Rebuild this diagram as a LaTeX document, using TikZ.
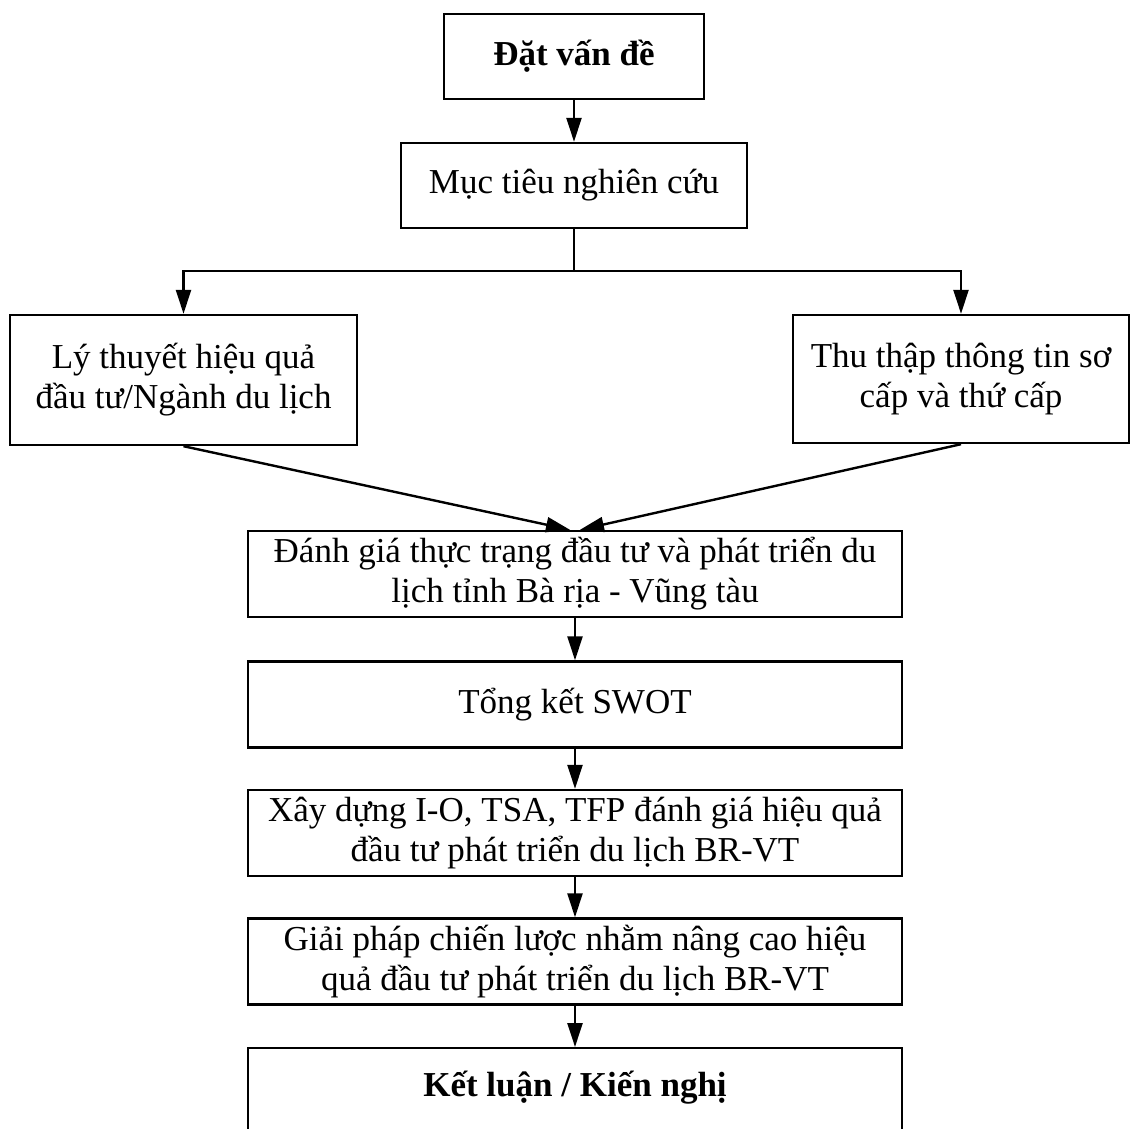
\documentclass[tikz,border=0pt]{standalone}
\usepackage{fontspec}
\setmainfont{Liberation Serif}
\usetikzlibrary{arrows.meta}

\begin{document}
\begin{tikzpicture}[x=1pt, y=-1pt,
    box/.style={draw, line width=2.4pt, align=center, inner sep=0pt,
        font=\fontsize{35}{40}\selectfont},
    wide/.style={box, minimum width=654pt, minimum height=86pt},
    arr/.style={line width=2.4pt, -{Triangle[length=24pt,width=15pt]}}]
\useasboundingbox (0,0) rectangle (1132,1129);
\clip (0,0) rectangle (1132,1129);

\node[box, minimum width=260pt, minimum height=85pt] (problem) at (574,56.5) {\textbf{Đặt vấn đề}};
\node[box, minimum width=346pt, minimum height=85pt] (aims) at (574,185.5) {Mục tiêu nghiên cứu};
\node[box, minimum width=347pt, minimum height=130pt] (theory) at (183.5,380) {Lý thuyết hiệu quả\\đầu tư/Ngành du lịch};
\node[box, minimum width=336pt, minimum height=128pt] (data) at (961,379) {Thu thập thông tin sơ\\cấp và thứ cấp};
\node[wide] (status) at (575,574) {Đánh giá thực trạng đầu tư và phát triển du\\lịch tỉnh Bà rịa - Vũng tàu};
\node[wide] (swot) at (575,704.5) {Tổng kết SWOT};
\node[wide] (model) at (575,833) {Xây dựng I-O, TSA, TFP đánh giá hiệu quả\\đầu tư phát triển du lịch BR-VT};
\node[wide] (plan) at (575,961.5) {Giải pháp chiến lược nhằm nâng cao hiệu\\quả đầu tư phát triển du lịch BR-VT};
\node[box, minimum width=654pt, anchor=north, inner ysep=8pt, text height=40pt, text depth=60pt] (result) at (575,1047) {\textbf{Kết luận / Kiến nghị}};

\coordinate (fork) at (574,271);
\draw[arr] (problem) -- (aims);
\draw[line width=2.4pt] (aims) -- (fork);
\draw[arr] (fork) -| (theory);
\draw[arr] (fork) -| (data);
\draw[arr] (theory.south) -- ([xshift=-5pt]status.north);
\draw[arr] (data.south) -- ([xshift=5pt]status.north);
\draw[arr] (status) -- (swot);
\draw[arr] (swot) -- (model);
\draw[arr] (model) -- (plan);
\draw[arr] (plan) -- (result);

\end{tikzpicture}
\end{document}
